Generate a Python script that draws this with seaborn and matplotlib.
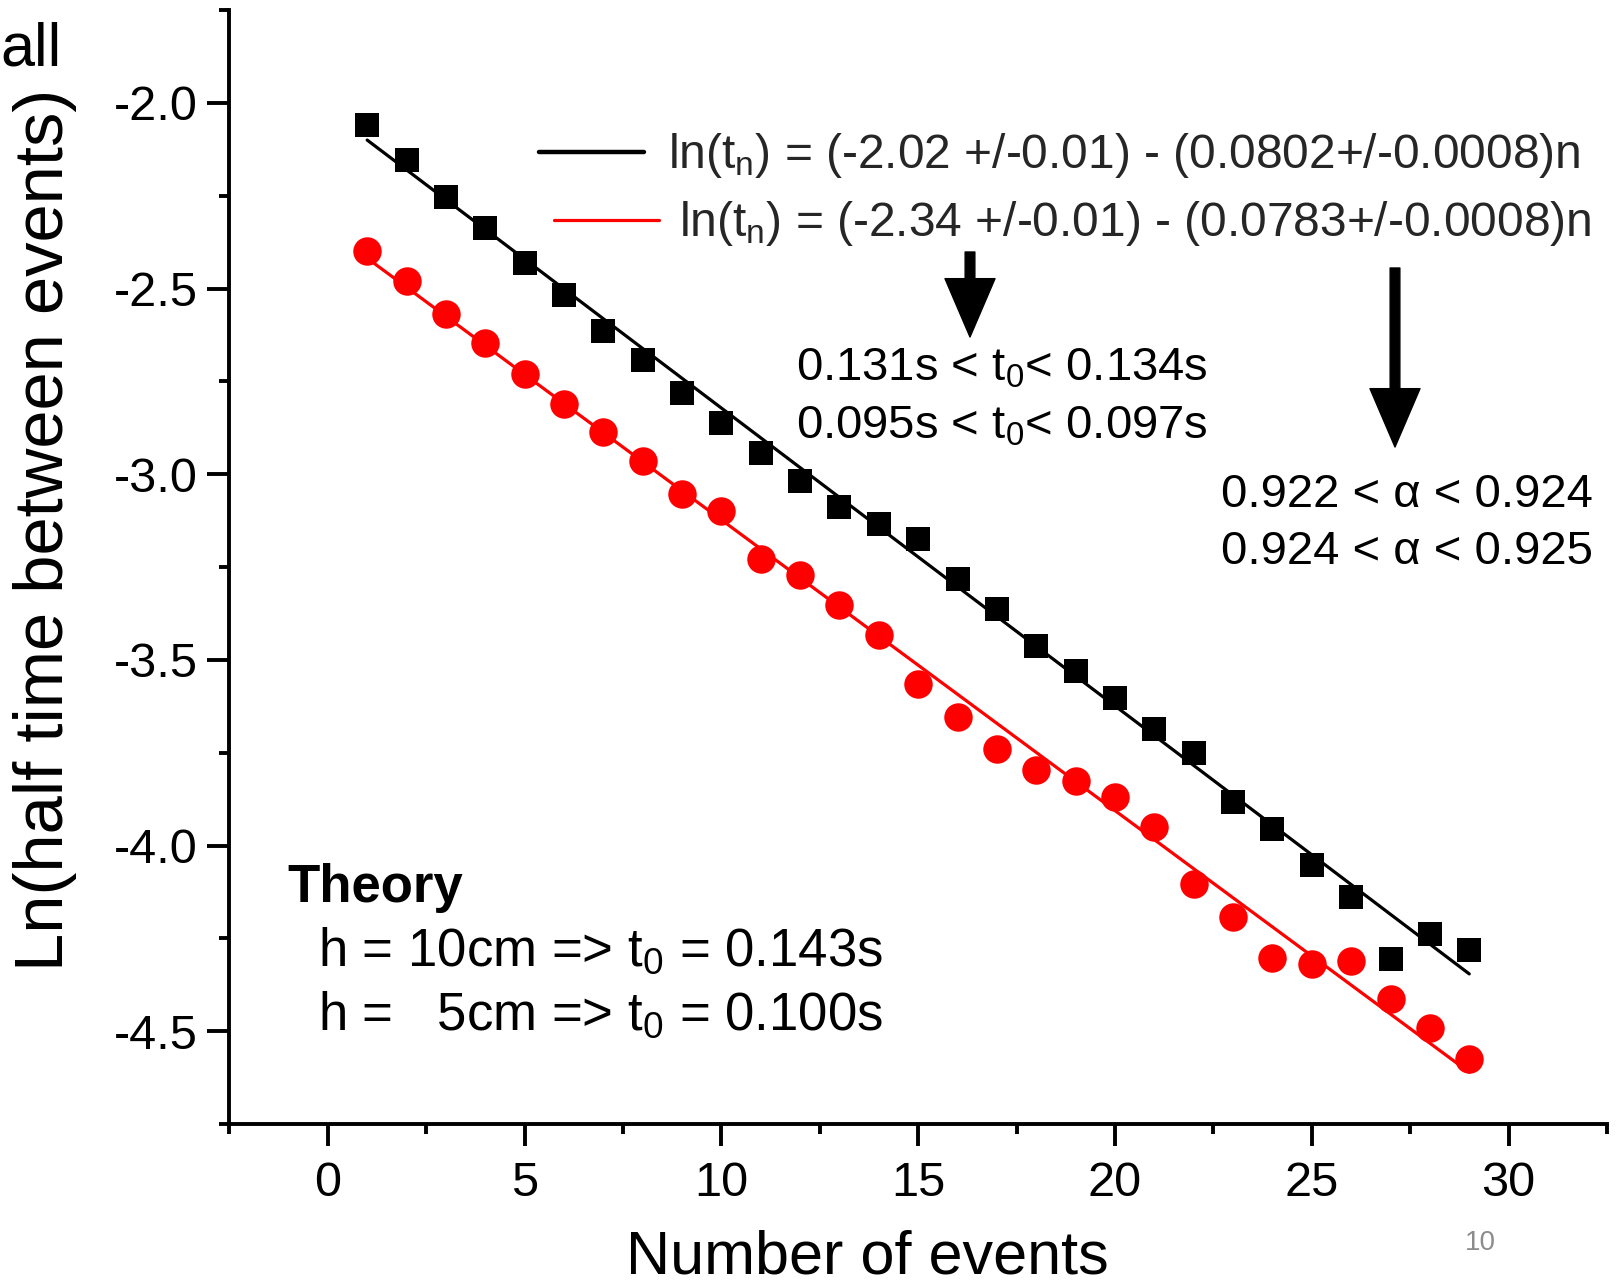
import matplotlib
matplotlib.use("Agg")
import matplotlib.pyplot as plt
from matplotlib.lines import Line2D
from matplotlib.ticker import MultipleLocator, FormatStrFormatter
import numpy as np
import pandas as pd
import seaborn as sns

# Event index
events = list(range(1, 30))

# ln of half time between events, drop height 10 cm (squares) and 5 cm (circles)
ln_t_10cm = [-2.061, -2.153, -2.253, -2.336, -2.431, -2.517, -2.614, -2.692, -2.781, -2.861,
             -2.942, -3.019, -3.089, -3.133, -3.175, -3.283, -3.364, -3.464, -3.531, -3.603,
             -3.686, -3.750, -3.883, -3.956, -4.053, -4.139, -4.306, -4.239, -4.281]
ln_t_5cm = [-2.400, -2.481, -2.569, -2.647, -2.731, -2.811, -2.886, -2.964, -3.053, -3.100,
            -3.228, -3.272, -3.353, -3.433, -3.564, -3.653, -3.739, -3.797, -3.825, -3.869,
            -3.950, -4.103, -4.192, -4.303, -4.319, -4.311, -4.414, -4.492, -4.575]

# Linear fit parameters: ln(t_n) = a - b n
fit_intercepts = [-2.02, -2.34]
fit_slopes = [0.0802, 0.0783]
fit_range = [1, 29]

fit_labels = [
    r"ln(t$_{\mathregular{n}}$) = (-2.02 +/-0.01) - (0.0802+/-0.0008)n",
    r"ln(t$_{\mathregular{n}}$) = (-2.34 +/-0.01) - (0.0783+/-0.0008)n",
]

sns.set_theme(style="ticks")
plt.rcParams["font.family"] = ["Liberation Sans", "DejaVu Sans"]
plt.rcParams["mathtext.fontset"] = "custom"
plt.rcParams["mathtext.rm"] = "Liberation Sans"
plt.rcParams["mathtext.it"] = "Liberation Sans:italic"
plt.rcParams["mathtext.bf"] = "Liberation Sans:bold"
plt.rcParams["axes.unicode_minus"] = False

W, H = 1620, 1288
fig = plt.figure(figsize=(W / 100, H / 100), dpi=100)
fig.patch.set_facecolor("white")

def fx(px):
    return px / W

def fy(py):
    return 1 - py / H

ax = fig.add_axes([fx(229.4), fy(1124), (1607 - 229.4) / W, (1124 - 10) / H])
ax.set_facecolor("white")

RED = "#ff0000"

df = pd.DataFrame({"n": events, "h10": ln_t_10cm, "h5": ln_t_5cm})

# fitted lines
for a, b, col in zip(fit_intercepts, fit_slopes, ["black", RED]):
    xs = np.array(fit_range, dtype=float)
    sns.lineplot(x=xs, y=a - b * xs, color=col, linewidth=2.3, ax=ax, zorder=2)

sns.scatterplot(data=df, x="n", y="h10", marker="s", s=310, color="black",
                linewidth=0, ax=ax, zorder=3)
sns.scatterplot(data=df, x="n", y="h5", marker="o", s=420, color=RED,
                linewidth=0, ax=ax, zorder=3)

ax.set_xlim(-2.5, 32.5)
ax.set_ylim(-4.75, -1.75)
ax.xaxis.set_major_locator(MultipleLocator(5))
ax.xaxis.set_minor_locator(MultipleLocator(2.5))
ax.yaxis.set_major_locator(MultipleLocator(0.5))
ax.yaxis.set_minor_locator(MultipleLocator(0.25))
ax.yaxis.set_major_formatter(FormatStrFormatter("%.1f"))

for side in ["top", "right"]:
    ax.spines[side].set_visible(False)
for side in ["left", "bottom"]:
    ax.spines[side].set_linewidth(2.8)
    ax.spines[side].set_color("black")

ax.tick_params(which="major", length=15.8, width=2.8, direction="out",
               labelsize=35, color="black", labelcolor="black")
ax.tick_params(which="minor", length=7.2, width=2.8, direction="out", color="black")
ax.tick_params(axis="y", which="major", pad=7)
ax.tick_params(axis="x", which="major", pad=11)

ax.set_xlabel("Number of events", fontsize=44, color="black", va="baseline")
ax.xaxis.set_label_coords(0.463, (1288 - 1274 - 164) / 1114)
ax.set_ylabel("Ln(half time between events)", fontsize=49.5, color="black", va="center")
ax.yaxis.set_label_coords((45 - 229.4) / 1377.6, (1288 - 530 - 164) / 1114)

# legends for the two fits
handles = [Line2D([], [], color="black", lw=3.2), Line2D([], [], color=RED, lw=2.3)]
leg1 = ax.legend([handles[0]], [fit_labels[0]], loc="center left",
                 bbox_to_anchor=(fx(539), fy(156)), bbox_transform=fig.transFigure,
                 frameon=False, fontsize=34.5, handlelength=2.2, handletextpad=0.5,
                 borderpad=0, borderaxespad=0)
ax.add_artist(leg1)
ax.legend([handles[1]], [fit_labels[1]], loc="center left",
          bbox_to_anchor=(fx(554), fy(224)), bbox_transform=fig.transFigure,
          frameon=False, fontsize=34.5, handlelength=2.2, handletextpad=0.4,
          borderpad=0, borderaxespad=0)

# derived quantities
fig.text(fx(796), fy(381), r"0.131s < t$_{\mathregular{0}}$< 0.134s", fontsize=34,
         ha="left", va="baseline", color="black")
fig.text(fx(796), fy(438), r"0.095s < t$_{\mathregular{0}}$< 0.097s", fontsize=34,
         ha="left", va="baseline", color="black")
fig.text(fx(1221), fy(507), "0.922 < \u03b1 < 0.924", fontsize=34,
         ha="left", va="baseline", color="black")
fig.text(fx(1221), fy(564), "0.924 < \u03b1 < 0.925", fontsize=34,
         ha="left", va="baseline", color="black")

arrow_style = dict(facecolor="black", edgecolor="black", width=7, headwidth=36,
                   headlength=42, shrink=0)
ax.annotate("", xy=(970, H - 337), xytext=(970, H - 252), xycoords="figure pixels",
            textcoords="figure pixels", arrowprops=arrow_style)
ax.annotate("", xy=(1395, H - 447), xytext=(1395, H - 268), xycoords="figure pixels",
            textcoords="figure pixels", arrowprops=arrow_style)

# theory box
fig.text(fx(287), fy(902), "Theory", fontsize=38, fontweight="bold",
         ha="left", va="baseline", color="black")
fig.text(fx(318), fy(966), r"h = 10cm => t$_{\mathregular{0}}$ = 0.143s", fontsize=38,
         ha="left", va="baseline", color="black")
fig.text(fx(318), fy(1030), r"h =   5cm => t$_{\mathregular{0}}$ = 0.100s", fontsize=38,
         ha="left", va="baseline", color="black")

fig.text(fx(0), fy(65), "all", fontsize=44, ha="left", va="baseline", color="black")
fig.text(fx(1480), fy(1250), "10", fontsize=20, ha="center", va="baseline", color="#8c8c8c")

fig.savefig("out.png", dpi=100, facecolor="white")
